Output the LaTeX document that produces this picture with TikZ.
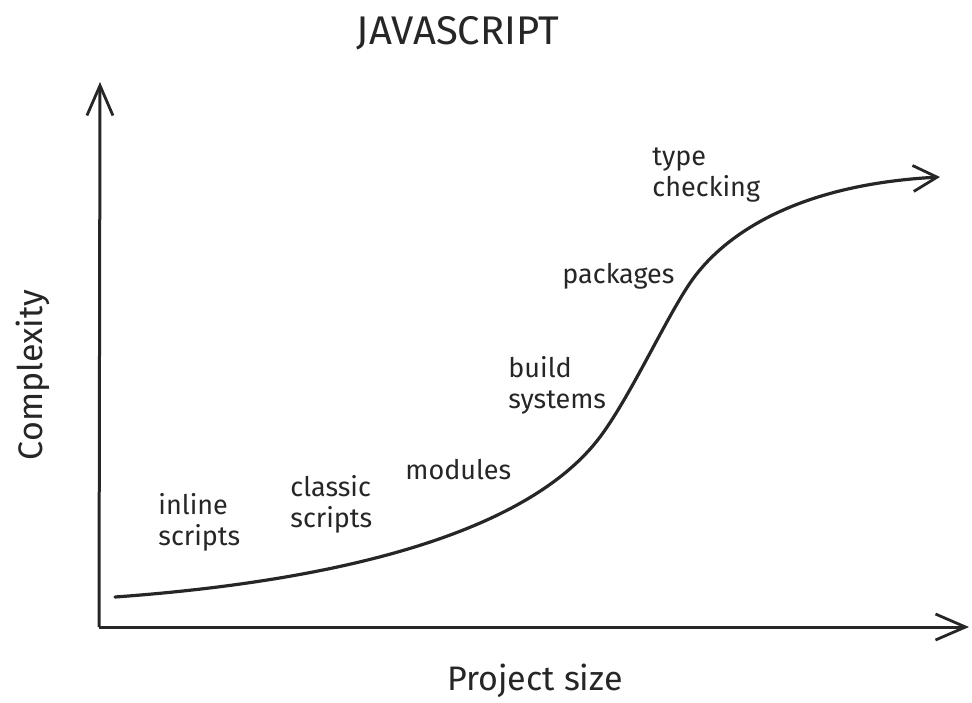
\documentclass[tikz,border=0pt]{standalone}
\usepackage{fontspec}
\setmainfont{Fira Sans}
\usepackage{xcolor}
\usepackage{tikz}
\usetikzlibrary{arrows.meta, positioning}

\begin{document}
\begin{tikzpicture}[x=0.5pt, y=-0.5pt,
    axisline/.style={line width=1.5pt, draw=black!85, -{Straight Barb[length=15pt, width=13pt, line width=1.4pt]}},
    curveline/.style={line width=1.6pt, draw=black!85, line cap=round, -{Straight Barb[length=12pt, width=13pt, line width=1.4pt]}},
    stage/.style={font=\fontsize{13.5}{15.5}\selectfont, text=black!85, align=left, anchor=west, inner sep=0pt}]

  \useasboundingbox (0,0) rectangle (972,702);

  % axes
  \coordinate (origin) at (99,627);
  \coordinate (ytop)   at (100,82);
  \coordinate (xend)   at (969,627);
  \draw[axisline] (origin) -- (ytop);
  \draw[axisline] (origin) -- (xend);

  % curve
  \coordinate (cstart) at (115,597);
  \coordinate (cend)   at (940,177);
  \draw[curveline] (cstart) .. controls (350,580) and (530,530) .. (600,437)
                            .. controls (630,397) and (665,320) .. (690,283)
                            .. controls (720,239) and (790,185) .. (cend);

  % titles
  \node[font=\fontsize{20}{24}\selectfont, text=black!85] (title) at (458,33) {JAVASCRIPT};
  \node[font=\fontsize{17}{20}\selectfont, text=black!85, rotate=90] (ylabel) at (33,375) {Complexity};
  \node[font=\fontsize{17}{20}\selectfont, text=black!85] (xlabel) at (535,681) {Project size};

  % stages
  \node[stage] (inline)   at (158,522) {inline\\scripts};
  \node[stage] (classic)  at (290,504) {classic\\scripts};
  \node[stage] (modules)  at (405,470) {modules};
  \node[stage] (build)    at (508,385) {build\\systems};
  \node[stage] (packages) at (562,276) {packages};
  \node[stage] (typechk)  at (652,175) {type\\checking};

\end{tikzpicture}
\end{document}
